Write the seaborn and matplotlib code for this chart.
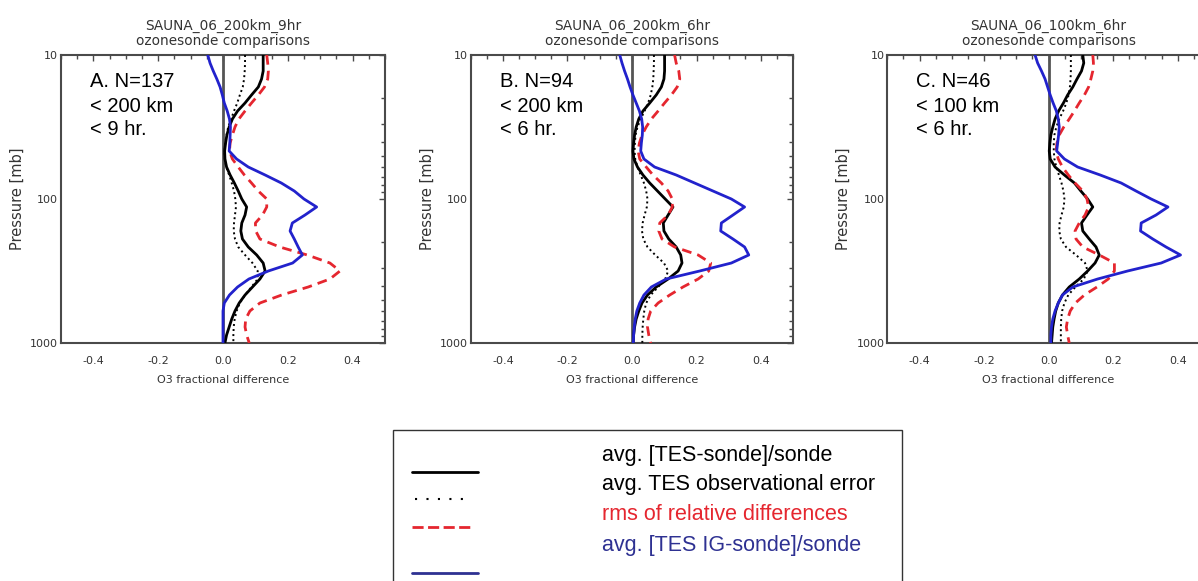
import matplotlib
matplotlib.use("Agg")
import matplotlib.pyplot as plt
import seaborn as sns
import pandas as pd
from matplotlib.ticker import FixedLocator, FixedFormatter, NullFormatter, MultipleLocator
from matplotlib.lines import Line2D
from matplotlib.patches import Rectangle

# ---------------- data ----------------
pressure = [10.0, 11.37, 12.92, 14.68, 16.68, 18.96, 21.54, 24.48, 27.83, 31.62,
            35.94, 40.84, 46.42, 52.75, 59.95, 68.13, 77.43, 88.0, 100.0, 113.6,
            129.2, 146.8, 166.8, 189.6, 215.4, 244.8, 278.3, 316.2, 359.4, 408.4,
            464.2, 527.5, 599.5, 681.3, 774.3, 880.0, 1000.0]

a_diff = [0.124, 0.124, 0.124, 0.119, 0.109, 0.088, 0.068, 0.045, 0.029, 0.019,
          0.012, 0.008, 0.005, 0.006, 0.011, 0.022, 0.035, 0.047, 0.058, 0.073,
          0.068, 0.058, 0.055, 0.060, 0.078, 0.104, 0.124, 0.130, 0.114, 0.091,
          0.068, 0.050, 0.037, 0.027, 0.019, 0.011, 0.006]
a_err = [0.068, 0.068, 0.067, 0.065, 0.061, 0.052, 0.044, 0.034, 0.025, 0.016,
         0.011, 0.007, 0.005, 0.006, 0.010, 0.019, 0.027, 0.034, 0.038, 0.040,
         0.037, 0.034, 0.033, 0.037, 0.047, 0.068, 0.091, 0.107, 0.107, 0.088,
         0.068, 0.052, 0.042, 0.036, 0.033, 0.032, 0.032]
a_rms = [0.135, 0.138, 0.140, 0.138, 0.128, 0.109, 0.088, 0.068, 0.049, 0.037,
         0.029, 0.022, 0.020, 0.029, 0.047, 0.066, 0.088, 0.109, 0.135, 0.135,
         0.122, 0.100, 0.101, 0.114, 0.175, 0.260, 0.330, 0.361, 0.330, 0.263,
         0.181, 0.114, 0.083, 0.070, 0.068, 0.073, 0.081]
a_ig = [-0.047, -0.040, -0.030, -0.019, -0.009, -0.002, 0.004, 0.013, 0.020, 0.023,
        0.022, 0.021, 0.019, 0.042, 0.078, 0.130, 0.180, 0.220, 0.250, 0.289,
        0.253, 0.214, 0.207, 0.220, 0.232, 0.245, 0.215, 0.140, 0.080, 0.045,
        0.020, 0.004, 0.0, 0.0, 0.0, 0.0, 0.0]

b_diff = [0.101, 0.101, 0.101, 0.099, 0.091, 0.075, 0.055, 0.034, 0.021, 0.013,
          0.008, 0.005, 0.003, 0.006, 0.017, 0.034, 0.055, 0.079, 0.103, 0.127,
          0.112, 0.097, 0.099, 0.114, 0.137, 0.151, 0.155, 0.143, 0.112, 0.075,
          0.048, 0.031, 0.021, 0.013, 0.008, 0.005, 0.004]
b_err = [0.068, 0.068, 0.067, 0.066, 0.063, 0.058, 0.050, 0.039, 0.027, 0.017,
         0.011, 0.009, 0.008, 0.010, 0.017, 0.027, 0.037, 0.044, 0.048, 0.046,
         0.039, 0.033, 0.031, 0.035, 0.048, 0.072, 0.099, 0.112, 0.103, 0.081,
         0.058, 0.044, 0.038, 0.035, 0.033, 0.032, 0.032]
b_rms = [0.132, 0.137, 0.145, 0.148, 0.140, 0.122, 0.101, 0.081, 0.060, 0.044,
         0.031, 0.023, 0.019, 0.024, 0.044, 0.065, 0.091, 0.112, 0.125, 0.125,
         0.112, 0.086, 0.083, 0.093, 0.132, 0.205, 0.244, 0.238, 0.205, 0.158,
         0.117, 0.081, 0.058, 0.050, 0.048, 0.052, 0.058]
b_ig = [-0.038, -0.031, -0.023, -0.014, -0.006, 0.003, 0.013, 0.023, 0.030, 0.033,
        0.032, 0.029, 0.027, 0.037, 0.070, 0.137, 0.194, 0.251, 0.308, 0.349,
        0.313, 0.277, 0.275, 0.313, 0.349, 0.362, 0.308, 0.210, 0.106, 0.060,
        0.037, 0.024, 0.015, 0.010, 0.007, 0.005, 0.004]

c_diff = [0.106, 0.109, 0.102, 0.088, 0.075, 0.059, 0.046, 0.031, 0.020, 0.013,
          0.007, 0.004, 0.002, 0.005, 0.020, 0.049, 0.080, 0.100, 0.121, 0.137,
          0.119, 0.102, 0.106, 0.126, 0.147, 0.157, 0.144, 0.121, 0.095, 0.064,
          0.043, 0.030, 0.022, 0.017, 0.013, 0.011, 0.009]
c_err = [0.069, 0.069, 0.069, 0.068, 0.066, 0.062, 0.055, 0.045, 0.033, 0.024,
         0.018, 0.016, 0.016, 0.018, 0.024, 0.032, 0.040, 0.046, 0.049, 0.047,
         0.040, 0.034, 0.033, 0.038, 0.054, 0.085, 0.113, 0.121, 0.109, 0.083,
         0.061, 0.049, 0.042, 0.039, 0.038, 0.038, 0.038]
c_rms = [0.137, 0.139, 0.137, 0.131, 0.124, 0.111, 0.095, 0.080, 0.064, 0.047,
         0.033, 0.026, 0.023, 0.030, 0.043, 0.061, 0.082, 0.106, 0.119, 0.124,
         0.113, 0.095, 0.082, 0.085, 0.106, 0.157, 0.204, 0.204, 0.185, 0.150,
         0.111, 0.083, 0.067, 0.059, 0.055, 0.059, 0.064]
c_ig = [-0.042, -0.034, -0.022, -0.011, -0.003, 0.005, 0.014, 0.024, 0.030, 0.033,
        0.031, 0.028, 0.025, 0.049, 0.090, 0.160, 0.225, 0.271, 0.318, 0.370,
        0.333, 0.287, 0.285, 0.323, 0.364, 0.409, 0.349, 0.245, 0.152, 0.075,
        0.043, 0.030, 0.020, 0.013, 0.009, 0.007, 0.007]

titles = ["SAUNA_06_200km_9hr\nozonesonde comparisons",
          "SAUNA_06_200km_6hr\nozonesonde comparisons",
          "SAUNA_06_100km_6hr\nozonesonde comparisons"]
notes = [["A. N=137", "< 200 km", "< 9 hr."],
         ["B. N=94", "< 200 km", "< 6 hr."],
         ["C. N=46", "< 100 km", "< 6 hr."]]
ytick_vals = [10, 100, 1000]
ytick_labels = ["10", "100", "1000"]
xtick_vals = [-0.4, -0.2, 0.0, 0.2, 0.4]
xtick_labels = ["-0.4", "-0.2", "0.0", "0.2", "0.4"]
legend_labels = ["avg. [TES-sonde]/sonde", "avg. TES observational error",
                 "rms of relative differences", "avg. [TES IG-sonde]/sonde"]

panel_series = [(a_err, a_diff, a_rms, a_ig),
                (b_err, b_diff, b_rms, b_ig),
                (c_err, c_diff, c_rms, c_ig)]

# ---------------- style ----------------
sns.set_theme(style="white")
plt.rcParams["font.family"] = ["DejaVu Sans"]
plt.rcParams["axes.unicode_minus"] = False

W, H = 1198, 581
fig = plt.figure(figsize=(W / 100, H / 100), dpi=100)
fig.patch.set_facecolor("white")

GRAY = "#4a4a4a"
RED = "#e5262f"
BLUE = "#2222cc"
NAVY = "#2e3192"

# axes boxes in pixels: (left, width)
boxes = [(61, 324), (470.7, 322.6), (887.3, 322.6)]
ax_top, ax_bot = 55, 343

series_style = [
    dict(color="black", lw=1.4, ls=(0, (1.0, 1.6))),   # observational error (dotted)
    dict(color="black", lw=2.0, ls="-"),               # avg diff
    dict(color=RED, lw=2.0, ls=(0, (3.5, 2.2))),       # rms
    dict(color=BLUE, lw=2.0, ls="-"),                  # IG diff
]

for i, (left, width) in enumerate(boxes):
    ax = fig.add_axes([left / W, (H - ax_bot) / H, width / W, (ax_bot - ax_top) / H])
    ax.set_yscale("log")
    ax.axvline(0, color="#555555", lw=2.0, zorder=1)
    for vals, st in zip(panel_series[i], series_style):
        df = pd.DataFrame({"value": vals, "pressure": pressure})
        sns.lineplot(data=df, x="value", y="pressure", sort=False, estimator=None,
                     orient="y", color=st["color"], lw=st["lw"], linestyle=st["ls"],
                     ax=ax, legend=False, zorder=3)
    ax.set_xlim(-0.5, 0.5)
    ax.set_ylim(1000, 10)
    ax.yaxis.set_major_locator(FixedLocator(ytick_vals))
    ax.yaxis.set_major_formatter(FixedFormatter(ytick_labels))
    ax.yaxis.set_minor_locator(FixedLocator([20, 30, 40, 50, 60, 70, 80, 90,
                                             200, 300, 400, 500, 600, 700, 800, 900]))
    ax.yaxis.set_minor_formatter(NullFormatter())
    ax.xaxis.set_major_locator(FixedLocator(xtick_vals))
    ax.xaxis.set_major_formatter(FixedFormatter(xtick_labels))
    ax.xaxis.set_minor_locator(MultipleLocator(0.05))
    ax.tick_params(which="both", direction="in", top=True, right=True,
                   color=GRAY, width=1.0, labelcolor="#333333", labelsize=8)
    ax.tick_params(which="major", length=4.5)
    ax.tick_params(which="minor", length=2.8)
    ax.tick_params(axis="y", pad=2)
    ax.tick_params(axis="x", pad=9)
    for sp in ax.spines.values():
        sp.set_visible(True)
        sp.set_color(GRAY)
        sp.set_linewidth(1.5)
    ax.set_xlabel("O3 fractional difference", fontsize=8, color="#333333")
    ax.set_ylabel("Pressure [mb]", fontsize=10.5, color="#333333")
    ax.xaxis.set_label_coords(0.5, -0.11)
    ax.yaxis.set_label_coords(-0.112, 0.5)
    ax.set_title(titles[i], fontsize=9.8, color="#333333", pad=7, linespacing=1.15)
    for txt, yy in zip(notes[i], [0.888, 0.803, 0.722]):
        ax.text(0.09, yy, txt, transform=ax.transAxes, fontsize=14.5,
                family="Liberation Sans", color="black", va="baseline", ha="left")
    ax.set_facecolor("white")

# ---------------- legend box ----------------
fig.add_artist(Rectangle((393 / W, (H - 600) / H), (902 - 393) / W, (600 - 430) / H,
                         transform=fig.transFigure, fill=False, edgecolor="#333333", lw=1.0))
sample_specs = [
    (411.7, 478.3, 471.7, dict(color="black", lw=2.0, ls="-")),
    (415.0, 468.0, 499.3, dict(color="black", lw=1.5, ls=(0, (1.0, 4.5)))),
    (411.7, 471.7, 527.0, dict(color=RED, lw=2.0, ls=(0, (4.0, 1.6)))),
    (411.7, 478.3, 573.0, dict(color=NAVY, lw=2.0, ls="-")),
]
for x0, x1, y, st in sample_specs:
    fig.add_artist(Line2D([x0 / W, x1 / W], [(H - y) / H] * 2, transform=fig.transFigure,
                          color=st["color"], lw=st["lw"], linestyle=st["ls"]))
text_colors = ["black", "black", RED, NAVY]
baselines = [461, 490, 519.5, 550.5]
for lab, col, bl in zip(legend_labels, text_colors, baselines):
    fig.text(601.7 / W, (H - bl) / H, lab, fontsize=15.5, family="Liberation Sans",
             color=col, va="baseline", ha="left")

fig.savefig("out.png", dpi=100, facecolor="white")
